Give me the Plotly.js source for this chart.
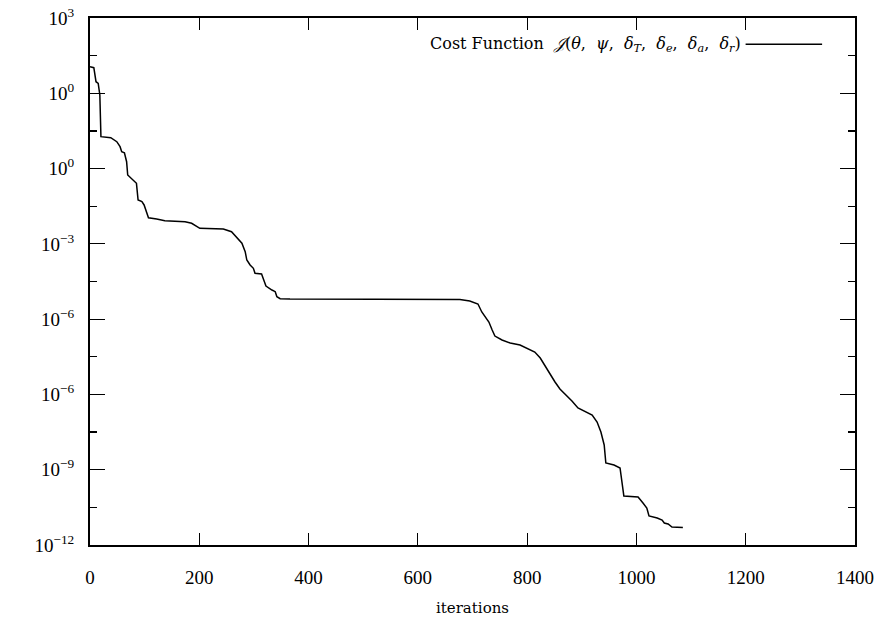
<!DOCTYPE html>
<html>
<head>
<meta charset="utf-8">
<script src="https://cdn.plot.ly/plotly-3.0.1.min.js"></script>
<style>html,body{margin:0;padding:0;background:#fff;}#chart{width:885px;height:624px;}</style>
</head>
<body>
<div id="chart"></div>
<script>
// Iteration numbers
const iterations = [0, 7, 11, 15, 18, 20, 38, 49, 55, 58, 63, 67, 69, 79, 85, 88, 95, 99, 107, 122,
  137, 174, 186, 201, 244, 259, 268, 278, 284, 287, 293, 299, 302, 314, 318, 322, 333, 339, 342, 348,
  366, 476, 677, 695, 710, 717, 725, 730, 736, 741, 754, 769, 787, 800, 814, 824, 833, 842, 851, 860,
  871, 882, 893, 904, 919, 928, 935, 941, 944, 959, 970, 977, 1003, 1012, 1019, 1023, 1038, 1047, 1051, 1058,
  1065, 1085];
// Cost function values
const costValues = [5.08, 4.79, 2.03, 1.84, 0.90, 0.0703, 0.0661, 0.0518, 0.0381, 0.0281, 0.0264, 0.0152, 0.00675, 0.00497, 0.00406, 0.00146, 0.00132, 0.00108, 4.95e-4, 4.57e-4,
  4.12e-4, 3.88e-4, 3.52e-4, 2.59e-4, 2.48e-4, 2.10e-4, 1.55e-4, 1.04e-4, 6.19e-5, 3.72e-5, 2.74e-5, 2.24e-5, 1.65e-5, 1.58e-5, 1.10e-5, 7.59e-6, 5.94e-6, 5.36e-6, 3.94e-6, 3.49e-6,
  3.43e-6, 3.37e-6, 3.33e-6, 3.03e-6, 2.52e-6, 1.55e-6, 1.07e-6, 8.39e-7, 5.14e-7, 3.56e-7, 2.79e-7, 2.32e-7, 2.06e-7, 1.71e-7, 1.34e-7, 9.29e-8, 5.69e-8, 3.28e-8, 2.14e-8, 1.39e-8,
  9.66e-9, 6.68e-9, 4.36e-9, 3.63e-9, 2.84e-9, 1.85e-9, 1.00e-9, 4.54e-10, 1.51e-10, 1.33e-10, 1.11e-10, 2.00e-11, 1.88e-11, 1.31e-11, 9.62e-12, 5.90e-12, 5.21e-12, 4.61e-12, 3.84e-12, 3.61e-12,
  3.01e-12, 2.92e-12];

const xTickVals = [0, 200, 400, 600, 800, 1000, 1200, 1400];
const yTickVals = [1e-12, 1e-10, 1e-8, 1e-6, 1e-4, 1e-2, 1e0, 1e2];
const yTickText = ["10<sup>\u221212</sup>", "10<sup>\u22129</sup>", "10<sup>\u22126</sup>", "10<sup>\u22126</sup>",
  "10<sup>\u22123</sup>", "10<sup>0</sup>", "10<sup>0</sup>", "10<sup>3</sup>"];
const yMinorVals = [1e-11, 1e-9, 1e-7, 1e-5, 1e-3, 1e-1, 1e1];
const seriesName = "Cost Function  <i>\uD835\uDCA5</i>(<i>\u03B8</i>,  <i>\u03C8</i>,  <i>\u03B4</i><sub><i>T</i></sub>,  <i>\u03B4</i><sub><i>e</i></sub>,  <i>\u03B4</i><sub><i>a</i></sub>,  <i>\u03B4</i><sub><i>r</i></sub>)";
const xTitle = "iterations";

const font = "Liberation Serif, DejaVu Serif, serif";
const font2 = "DejaVu Serif, Liberation Serif, serif";

const trace = {
  x: iterations, y: costValues, type: 'scatter', mode: 'lines',
  line: {color: '#000', width: 1.5},
  name: seriesName, showlegend: false, hoverinfo: 'skip'
};

const layout = {
  width: 885, height: 624,
  margin: {l: 90, r: 30, t: 18, b: 79},
  paper_bgcolor: '#fff', plot_bgcolor: '#fff',
  font: {family: font, color: '#000', size: 19},
  xaxis: {
    range: [0, 1400], tickvals: xTickVals, ticks: 'inside', ticklen: 12, tickwidth: 1.2, tickcolor: '#000',
    showline: true, linecolor: '#000', linewidth: 2, mirror: 'ticks', showgrid: false, zeroline: false,
    ticklabelstandoff: 14, tickfont: {size: 19, family: font},
    title: {text: xTitle, font: {size: 15, family: font2}, standoff: 16}
  },
  yaxis: {
    type: 'log', range: [-12, 2], tickvals: yTickVals, ticktext: yTickText,
    ticks: 'inside', ticklen: 15, tickwidth: 1.2, tickcolor: '#000',
    minor: {tickvals: yMinorVals, ticks: 'inside', ticklen: 7, tickwidth: 1.2, tickcolor: '#000', showgrid: false},
    showline: true, linecolor: '#000', linewidth: 2, mirror: 'ticks', showgrid: false, zeroline: false,
    ticklabelstandoff: 10, tickfont: {size: 19, family: font}
  },
  annotations: [{
    xref: 'paper', yref: 'paper', x: 0.853, y: 0.95, xanchor: 'right', yanchor: 'middle',
    text: seriesName, showarrow: false, font: {size: 16, family: font2, color: '#000'}
  }],
  shapes: [{
    type: 'line', xref: 'paper', yref: 'paper', x0: 0.857, x1: 0.957, y0: 0.95, y1: 0.95,
    line: {color: '#000', width: 1.5}
  }]
};

Plotly.newPlot('chart', [trace], layout, {displayModeBar: false, staticPlot: true});
</script>
</body>
</html>
